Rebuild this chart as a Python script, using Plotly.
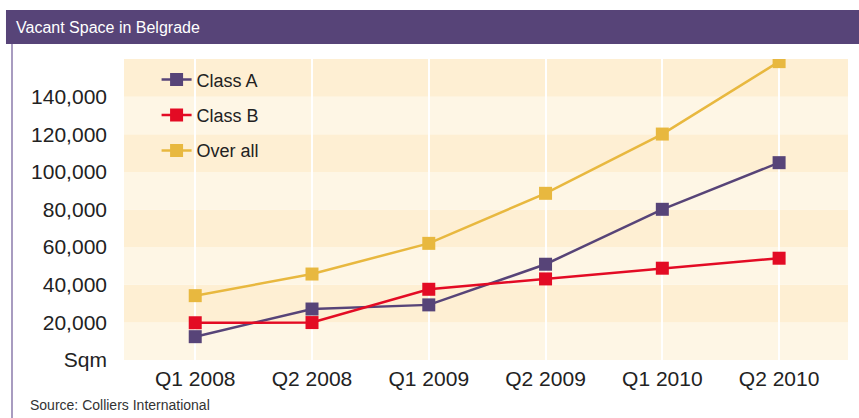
'''
    Line chart of vacant office space in Belgrade, by class.
'''
import plotly.graph_objects as go

quarters = ['Q1 2008', 'Q2 2008', 'Q1 2009', 'Q2 2009', 'Q1 2010', 'Q2 2010']
class_a = [12400, 27100, 29300, 50900, 80100, 104900]
class_b = [19800, 19900, 37600, 43100, 48800, 54100]
over_all = [34200, 45700, 62000, 88600, 120100, 158600]

tick_vals = [0, 20000, 40000, 60000, 80000, 100000, 120000, 140000]
tick_text = ['Sqm', '20,000', '40,000', '60,000', '80,000', '100,000', '120,000', '140,000']

PURPLE = '#574478'
RED = '#E30B24'
YELLOW = '#E8B83F'
BAND_DARK = '#FEEFD3'
BAND_LIGHT = '#FEF6E5'
FONT = 'Liberation Sans, Arial, sans-serif'

fig = go.Figure()

for name, values, color in [('Class A', class_a, PURPLE),
                            ('Class B', class_b, RED),
                            ('Over all', over_all, YELLOW)]:
    fig.add_trace(go.Scatter(
        x=quarters,
        y=values,
        name=name,
        legendgroup=name,
        mode='lines+markers',
        line=dict(color=color, width=2.5),
        marker=dict(symbol='square', size=13, color=color),
        hoverinfo='skip',
    ))

#alternating horizontal bands, 20,000 each
for i in range(8):
    fig.add_shape(
        type='rect', layer='below', xref='paper', yref='y',
        x0=0, x1=1, y0=i * 20000, y1=(i + 1) * 20000,
        fillcolor=BAND_DARK if i % 2 else BAND_LIGHT, line_width=0,
    )

#header band and left border
fig.add_shape(type='rect', xref='paper', yref='paper',
              x0=-0.163, x1=1.02, y0=1.0498, y1=1.1628,
              fillcolor='#574478', line_width=0)
fig.add_shape(type='line', xref='paper', yref='paper',
              x0=-0.1547, x1=-0.1547, y0=1.0498, y1=-0.2,
              line=dict(color='#A89CC0', width=2))

fig.add_annotation(text='Vacant Space in Belgrade', xref='paper', yref='paper',
                   x=-0.1519, y=1.1063, xanchor='left', yanchor='middle',
                   showarrow=False,
                   font=dict(family=FONT, size=16, color='white'))
fig.add_annotation(text='Source: Colliers International', xref='paper', yref='paper',
                   x=-0.1326, y=-0.1495, xanchor='left', yanchor='middle',
                   showarrow=False, font=dict(family=FONT, size=14, color='#333333'))

fig.update_xaxes(
    range=[-0.61, 5.59],
    showgrid=True, gridcolor='white', gridwidth=2,
    zeroline=False, showline=False, ticks='', ticklabelstandoff=4,
    tickfont=dict(family=FONT, size=21, color='#222222'),
)
fig.update_yaxes(
    range=[0, 160000],
    tickvals=tick_vals, ticktext=tick_text,
    showgrid=False, zeroline=False, showline=False, ticks='', ticklabelstandoff=16,
    tickfont=dict(family=FONT, size=21, color='#222222'),
)

fig.update_layout(
    width=859, height=418,
    margin=dict(l=124, r=11, t=59, b=58),
    paper_bgcolor='white', plot_bgcolor='white',
    showlegend=True,
    legend=dict(x=0.045, y=0.992, xanchor='left', yanchor='top',
                bgcolor='rgba(0,0,0,0)', tracegroupgap=9,
                font=dict(family=FONT, size=18, color='#222222')),
    hovermode=False,
)

fig.write_html('out.html', config={'displayModeBar': False},
               post_script="document.body.style.margin='0px';")
